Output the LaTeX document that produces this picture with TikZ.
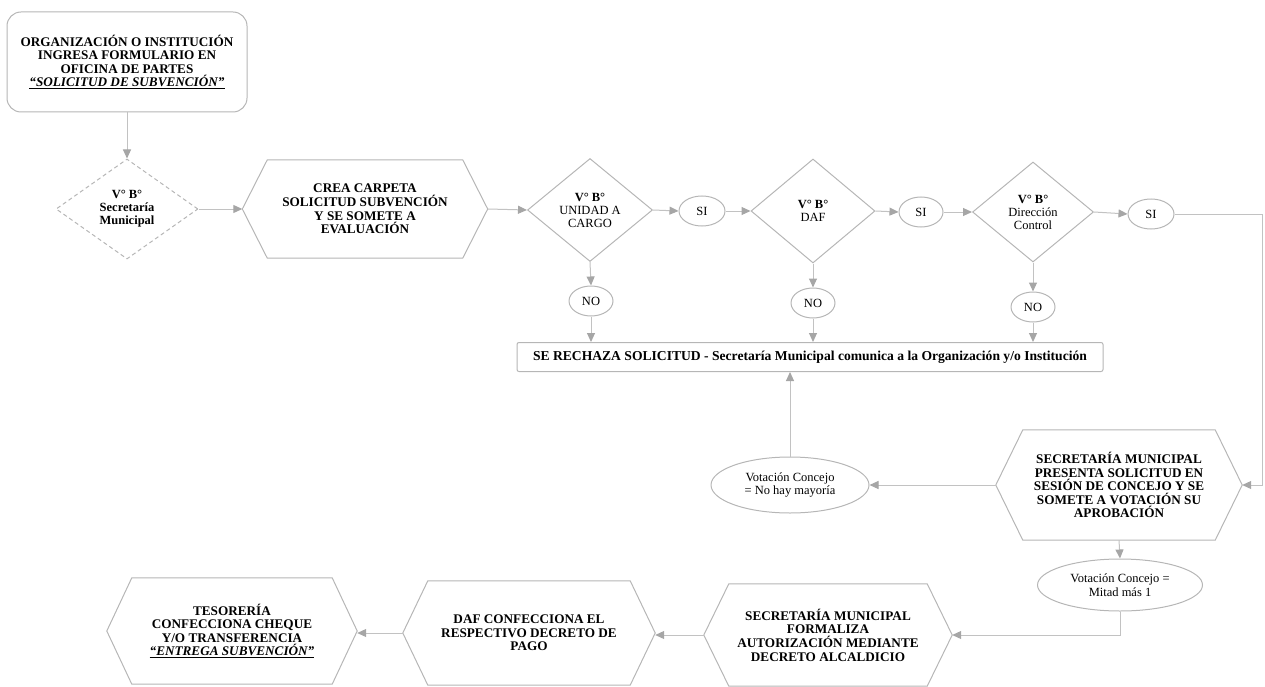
\documentclass[tikz,border=0pt]{standalone}
\usepackage{fontspec}
\setmainfont{Liberation Serif}
\usetikzlibrary{shapes.geometric,arrows.meta}
\definecolor{ln}{HTML}{C2C2C2}
\definecolor{bd}{HTML}{B6B6B6}
\definecolor{tipc}{HTML}{A6A6A6}
\newcommand\hexa[2]{\draw[shapeline] ([xshift=#2]#1.north west) -- (#1.west) -- ([xshift=#2]#1.south west) -- ([xshift=-#2]#1.south east) -- (#1.east) -- ([xshift=-#2]#1.north east) -- cycle;}
\begin{document}
\begin{tikzpicture}[x=1pt,y=-1pt,
  every node/.style={font=\fontsize{13.2}{13.6}\selectfont, align=center, inner sep=0pt},
  shapeline/.style={draw=bd, line width=1pt},
  arr/.style={draw=ln, line width=1pt, -{Triangle[length=9pt,width=8pt,color=tipc,fill=tipc]}},
  plain/.style={draw=ln, line width=1pt},
  startbox/.style={draw=bd, line width=1pt, rectangle, rounded corners=14pt, font=\fontsize{13.2}{13.2}\selectfont\bfseries},
  dia/.style={draw=bd, line width=1pt, diamond, shape aspect=1.4, font=\fontsize{12.5}{13}\selectfont},
  oval/.style={draw=bd, line width=1pt, ellipse, font=\fontsize{12.5}{13.5}\selectfont},
  hexn/.style={rectangle, font=\fontsize{13.2}{13.6}\selectfont\bfseries},
  rejbox/.style={draw=bd, line width=1pt, rectangle, rounded corners=2pt, font=\fontsize{13.6}{15}\selectfont\bfseries}
]
\useasboundingbox (0,0) rectangle (1265,687);

% nodes
\node[startbox, minimum width=240pt, minimum height=100pt] (start) at (127,62)
  {ORGANIZACIÓN O INSTITUCIÓN\\INGRESA FORMULARIO EN\\OFICINA DE PARTES\\\underline{\textit{“SOLICITUD DE SUBVENCIÓN”}}};
\node[dia, dashed, dash pattern=on 4pt off 3pt, minimum width=142pt, minimum height=100pt, font=\fontsize{12.5}{13}\selectfont\bfseries] (d1) at (127,209)
  {V° B°\\Secretaría\\Municipal};
\node[hexn, minimum width=245pt, minimum height=98pt] (h1) at (365,209)
  {CREA CARPETA\\SOLICITUD SUBVENCIÓN\\Y SE SOMETE A\\EVALUACIÓN};
\node[dia, minimum width=125pt, minimum height=103pt] (d2) at (590,210)
  {\textbf{V° B°}\\UNIDAD A\\CARGO};
\node[oval, minimum width=46pt, minimum height=30pt] (si1) at (702,211) {SI};
\node[dia, minimum width=124pt, minimum height=104pt] (d3) at (813,211)
  {\textbf{V° B°}\\DAF};
\node[oval, minimum width=44pt, minimum height=30pt] (si2) at (921,212) {SI};
\node[dia, minimum width=121pt, minimum height=100pt] (d4) at (1033,212)
  {\textbf{V° B°}\\Dirección\\Control};
\node[oval, minimum width=46pt, minimum height=30pt] (si3) at (1151,214) {SI};

\node[oval, minimum width=44pt, minimum height=30pt] (no1) at (591,301) {NO};
\node[oval, minimum width=44pt, minimum height=30pt] (no2) at (813,303) {NO};
\node[oval, minimum width=44pt, minimum height=30pt] (no3) at (1033,307) {NO};

\node[rejbox, minimum width=586pt, minimum height=29pt] (rej) at (810,357)
  {SE RECHAZA SOLICITUD - Secretaría Municipal comunica a la Organización y/o Institución};

\node[hexn, minimum width=246pt, minimum height=110pt] (h2) at (1119,485)
  {SECRETARÍA MUNICIPAL\\PRESENTA SOLICITUD EN\\SESIÓN DE CONCEJO Y SE\\SOMETE A VOTACIÓN SU\\APROBACIÓN};
\node[oval, minimum width=158pt, minimum height=56pt] (nomay) at (790,485)
  {Votación Concejo\\= No hay mayoría};
\node[oval, minimum width=165pt, minimum height=52pt] (mitad) at (1120,585)
  {Votación Concejo =\\Mitad más 1};

\node[hexn, minimum width=248pt, minimum height=102pt] (h3) at (828,635)
  {SECRETARÍA MUNICIPAL\\FORMALIZA\\AUTORIZACIÓN MEDIANTE\\DECRETO ALCALDICIO};
\node[hexn, minimum width=252pt, minimum height=104pt] (h4) at (529,633)
  {DAF CONFECCIONA EL\\RESPECTIVO DECRETO DE\\PAGO};
\node[hexn, minimum width=250pt, minimum height=106pt] (h5) at (232,631)
  {TESORERÍA\\CONFECCIONA CHEQUE\\Y/O TRANSFERENCIA\\\underline{\textit{“ENTREGA SUBVENCIÓN”}}};

% hexagon outlines
\hexa{h1}{25pt}
\hexa{h2}{27pt}
\hexa{h3}{25pt}
\hexa{h4}{25pt}
\hexa{h5}{25pt}

% connectors
\coordinate (c1) at (1262,214);
\coordinate (c2) at (1262,485);
\coordinate (c3) at (1120,635);

\draw[arr] (start.south) -- (d1.north);
\draw[arr] (d1.east) -- (h1.west);
\draw[arr] (h1.east) -- (d2.west);
\draw[arr] (d2.east) -- (si1.west);
\draw[arr] (si1.east) -- (d3.west);
\draw[arr] (d3.east) -- (si2.west);
\draw[arr] (si2.east) -- (d4.west);
\draw[arr] (d4.east) -- (si3.west);
\draw[plain] (si3.east) -- (c1);
\draw[arr] (c1) -- (c2) -- (h2.east);

\draw[arr] (d2.south) -- (no1.north);
\draw[arr] (d3.south) -- (no2.north);
\draw[arr] (d4.south) -- (no3.north);
\draw[arr] (no1.south) -- (no1.south |- rej.north);
\draw[arr] (no2.south) -- (no2.south |- rej.north);
\draw[arr] (no3.south) -- (no3.south |- rej.north);

\draw[arr] (h2.west) -- (nomay.east);
\draw[arr] (nomay.north) -- (nomay.north |- rej.south);
\draw[arr] (h2.south) -- (mitad.north);
\draw[arr] (mitad.south) -- (c3) -- (h3.east);
\draw[arr] (h3.west) -- (h3.west -| h4.east);
\draw[arr] (h4.west) -- (h4.west -| h5.east);
\end{tikzpicture}
\end{document}
